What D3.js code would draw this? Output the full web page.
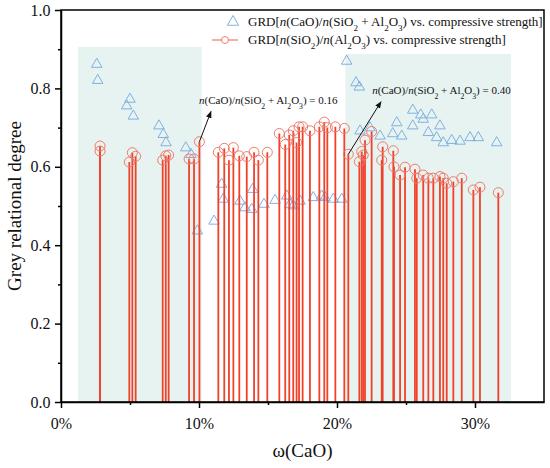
<!DOCTYPE html>
<html>
<head>
<meta charset="utf-8">
<script src="https://cdn.jsdelivr.net/npm/d3@7"></script>
<style>
  body { margin: 0; background: #fff; }
  svg { display: block; }
</style>
</head>
<body>
<div id="chart"><svg></svg></div>
<script>
const width = 550;
const height = 468;
const margin = { top: 10, right: 6, bottom: 66, left: 61 };
const serif = 'Liberation Serif';

// GRD[n(SiO2)/n(Al2O3)] vs strength, x = w(CaO)
const siAlX = [0.0283, 0.0283, 0.0495, 0.0517, 0.0541, 0.0737, 0.0759, 0.0780, 0.0928, 0.0964,
  0.1003, 0.1140, 0.1183, 0.1217, 0.1249, 0.1292, 0.1346, 0.1399, 0.1430, 0.1495,
  0.1582, 0.1625, 0.1654, 0.1683, 0.1707, 0.1725, 0.1751, 0.1804, 0.1872, 0.1908,
  0.1930, 0.1988, 0.2053, 0.2082, 0.2162, 0.2179, 0.2190, 0.2203, 0.2251, 0.2324,
  0.2331, 0.2408, 0.2413, 0.2457, 0.2493, 0.2565, 0.2578, 0.2625, 0.2662, 0.2698,
  0.2746, 0.2770, 0.2795, 0.2843, 0.2904, 0.2988, 0.3036, 0.3169];
const siAlGRD = [0.653, 0.640, 0.612, 0.636, 0.627, 0.617, 0.628, 0.630, 0.620, 0.620,
  0.664, 0.637, 0.647, 0.617, 0.649, 0.628, 0.626, 0.637, 0.617, 0.637,
  0.685, 0.657, 0.681, 0.692, 0.662, 0.702, 0.702, 0.692, 0.702, 0.714,
  0.700, 0.702, 0.698, 0.632, 0.613, 0.639, 0.630, 0.668, 0.690, 0.617,
  0.651, 0.641, 0.600, 0.579, 0.599, 0.594, 0.571, 0.579, 0.571, 0.571,
  0.575, 0.571, 0.558, 0.562, 0.571, 0.541, 0.548, 0.534];

// GRD[n(CaO)/n(SiO2+Al2O3)] vs strength
const caoX = [0.0259, 0.0266, 0.0500, 0.0476, 0.0524, 0.0710, 0.0741, 0.0761, 0.0904, 0.0942,
  0.0988, 0.1109, 0.1164, 0.1176, 0.1297, 0.1333, 0.1389, 0.1382, 0.1471, 0.1551,
  0.1636, 0.1659, 0.1683, 0.1732, 0.1828, 0.1889, 0.1913, 0.1973, 0.2034, 0.2070,
  0.2138, 0.2162, 0.2167, 0.2239, 0.2312, 0.2404, 0.2433, 0.2469, 0.2549, 0.2549,
  0.2607, 0.2625, 0.2662, 0.2686, 0.2722, 0.2746, 0.2770, 0.2831, 0.2891, 0.2964,
  0.3024, 0.3157];
const caoGRD = [0.864, 0.823, 0.775, 0.758, 0.732, 0.707, 0.685, 0.664, 0.651, 0.634,
  0.439, 0.464, 0.558, 0.520, 0.515, 0.498, 0.545, 0.494, 0.507, 0.517,
  0.528, 0.507, 0.503, 0.515, 0.524, 0.528, 0.524, 0.520, 0.520, 0.872,
  0.817, 0.806, 0.694, 0.702, 0.681, 0.687, 0.715, 0.681, 0.747, 0.707,
  0.735, 0.724, 0.690, 0.735, 0.677, 0.707, 0.664, 0.670, 0.668, 0.677,
  0.677, 0.664];

// shaded ranges [x0, x1, top]
const shadeX0 = [0.0123, 0.2060];
const shadeX1 = [0.1020, 0.3260];
const shadeTop = [0.906, 0.888];

const xMajorTicks = [0, 0.1, 0.2, 0.3];
const xMinorTicks = [0.05, 0.15, 0.25];
const yMajorTicks = [0, 0.2, 0.4, 0.6, 0.8, 1.0];
const yMinorTicks = [0.1, 0.3, 0.5, 0.7, 0.9];

const legendLabels = [
  [['GRD['], ['n', 'i'], ['(CaO)/'], ['n', 'i'], ['(SiO'], ['2', 's'], [' + Al'], ['2', 's'], ['O'], ['3', 's'], [') vs. compressive strength]']],
  [['GRD['], ['n', 'i'], ['(SiO'], ['2', 's'], [')/'], ['n', 'i'], ['(Al'], ['2', 's'], ['O'], ['3', 's'], [') vs. compressive strength]']]
];

// annotation: arrow from data point to text
const noteLabels = ['0.16', '0.40'];
const noteFrom = [[0.1003, 0.664], [0.2082, 0.632]];
const noteTo = [[0.1087, 0.741], [0.2319, 0.766]];
const noteText = [[0.1000, 0.760], [0.2255, 0.785]];

const red = '#f0412a';
const redCircle = '#f07a6c';
const blue = '#7fb1e3';
const shade = '#e7f3f1';

const svg = d3.select('#chart > svg')
  .attr('width', width)
  .attr('height', height)
  .attr('font-family', serif);

const x = d3.scaleLinear()
  .domain([0, 0.35])
  .range([margin.left, width - margin.right]);

const y = d3.scaleLinear()
  .domain([0, 1])
  .range([height - margin.bottom, margin.top]);

svg.append('defs').append('marker')
  .attr('id', 'arrow')
  .attr('viewBox', '0 0 10 10')
  .attr('refX', 9).attr('refY', 5)
  .attr('markerWidth', 7).attr('markerHeight', 7)
  .attr('orient', 'auto')
  .append('path')
  .attr('d', 'M0,1 L10,5 L0,9 z')
  .attr('fill', '#111');

// shaded boxes
svg.selectAll('rect.shade')
  .data(shadeX0)
  .join('rect')
  .attr('class', 'shade')
  .attr('x', (d, i) => x(d))
  .attr('y', (d, i) => y(shadeTop[i]))
  .attr('width', (d, i) => x(shadeX1[i]) - x(d))
  .attr('height', (d, i) => y(0) - y(shadeTop[i]))
  .attr('fill', shade);

// triangles
const tri = d3.symbol().type(d3.symbolTriangle).size(48);
svg.selectAll('path.tri')
  .data(caoX)
  .join('path')
  .attr('class', 'tri')
  .attr('d', tri)
  .attr('transform', (d, i) => `translate(${x(d)},${y(caoGRD[i]) + 1})`)
  .attr('fill', 'none')
  .attr('stroke', blue)
  .attr('stroke-width', 1);

// stems
svg.selectAll('line.stem')
  .data(siAlX)
  .join('line')
  .attr('class', 'stem')
  .attr('x1', d => x(d)).attr('x2', d => x(d))
  .attr('y1', y(0))
  .attr('y2', (d, i) => y(siAlGRD[i]))
  .attr('stroke', red)
  .attr('stroke-width', 1.8);

svg.selectAll('circle.pt')
  .data(siAlX)
  .join('circle')
  .attr('class', 'pt')
  .attr('cx', d => x(d))
  .attr('cy', (d, i) => y(siAlGRD[i]))
  .attr('r', 5)
  .attr('fill', 'none')
  .attr('stroke', redCircle)
  .attr('stroke-width', 1);

// axes
const xAxis = svg.append('g')
  .attr('transform', `translate(0,${y(0)})`)
  .call(d3.axisBottom(x).tickValues(xMajorTicks).tickFormat(d3.format('.0%')).tickSize(6).tickSizeOuter(0));
svg.append('g')
  .attr('transform', `translate(0,${y(0)})`)
  .call(d3.axisBottom(x).tickValues(xMinorTicks).tickFormat('').tickSize(3).tickSizeOuter(0))
  .select('.domain').remove();

const yAxis = svg.append('g')
  .attr('transform', `translate(${x(0)},0)`)
  .call(d3.axisLeft(y).tickValues(yMajorTicks).tickFormat(d3.format('.1f')).tickSize(6).tickSizeOuter(0));
svg.append('g')
  .attr('transform', `translate(${x(0)},0)`)
  .call(d3.axisLeft(y).tickValues(yMinorTicks).tickFormat('').tickSize(3).tickSizeOuter(0))
  .select('.domain').remove();

svg.selectAll('.tick line').attr('stroke', '#000').attr('stroke-width', 1.5);
svg.selectAll('.domain').attr('stroke', '#000').attr('stroke-width', 1.5);
[xAxis, yAxis].forEach(ax => {
  ax.attr('font-family', serif).attr('font-size', 16);
  ax.selectAll('text').attr('font-family', serif).attr('font-size', 16).attr('fill', '#111');
});
xAxis.selectAll('text').attr('dy', '1.1em');
yAxis.selectAll('text').attr('dx', '-0.1em');

// frame
svg.append('rect')
  .attr('x', x(0)).attr('y', y(1))
  .attr('width', x(0.35) - x(0))
  .attr('height', y(0) - y(1))
  .attr('fill', 'none')
  .attr('stroke', '#000')
  .attr('stroke-width', 1.5);

// titles
svg.append('text')
  .attr('x', (x(0) + x(0.35)) / 2)
  .attr('y', 457)
  .attr('text-anchor', 'middle')
  .attr('font-family', serif)
  .attr('font-size', 19)
  .attr('fill', '#111')
  .text('ω(CaO)');

svg.append('text')
  .attr('transform', `translate(21,${(y(0) + y(1)) / 2}) rotate(-90)`)
  .attr('text-anchor', 'middle')
  .attr('font-family', serif)
  .attr('font-size', 19)
  .attr('fill', '#111')
  .text('Grey relational degree');

// rich text helper for italic n and subscripts
function richText(sel, parts) {
  parts.forEach(p => {
    const t = sel.append('tspan').text(p[0]);
    if (p[1] === 'i') t.attr('font-style', 'italic');
    if (p[1] === 's') t.attr('baseline-shift', 'sub').attr('font-size', '0.7em');
  });
}

// annotations
const notes = svg.append('g');
noteLabels.forEach((lab, i) => {
  notes.append('line')
    .attr('x1', x(noteFrom[i][0])).attr('y1', y(noteFrom[i][1]))
    .attr('x2', x(noteTo[i][0])).attr('y2', y(noteTo[i][1]))
    .attr('stroke', '#111')
    .attr('stroke-width', 1)
    .attr('marker-end', 'url(#arrow)');
  const t = notes.append('text')
    .attr('x', x(noteText[i][0]))
    .attr('y', y(noteText[i][1]))
    .attr('font-family', serif)
    .attr('font-size', 11)
    .attr('fill', '#111');
  richText(t, [['n', 'i'], ['(CaO)/'], ['n', 'i'], ['(SiO'], ['2', 's'], [' + Al'], ['2', 's'], ['O'], ['3', 's'], [') = ' + lab]]);
});

// legend
const legend = svg.append('g');
legend.append('path')
  .attr('d', d3.symbol().type(d3.symbolTriangle).size(55))
  .attr('transform', 'translate(233,22)')
  .attr('fill', 'none')
  .attr('stroke', blue);
legend.append('line')
  .attr('x1', 212).attr('x2', 238)
  .attr('y1', 40).attr('y2', 40)
  .attr('stroke', redCircle)
  .attr('stroke-width', 1.2);
legend.append('circle')
  .attr('cx', 225).attr('cy', 40).attr('r', 3.5)
  .attr('fill', '#fff')
  .attr('stroke', redCircle);
legendLabels.forEach((parts, i) => {
  const t = legend.append('text')
    .attr('x', 248)
    .attr('y', 26 + i * 18)
    .attr('font-family', serif)
    .attr('font-size', 13)
    .attr('fill', '#111');
  richText(t, parts);
});
</script>
</body>
</html>
